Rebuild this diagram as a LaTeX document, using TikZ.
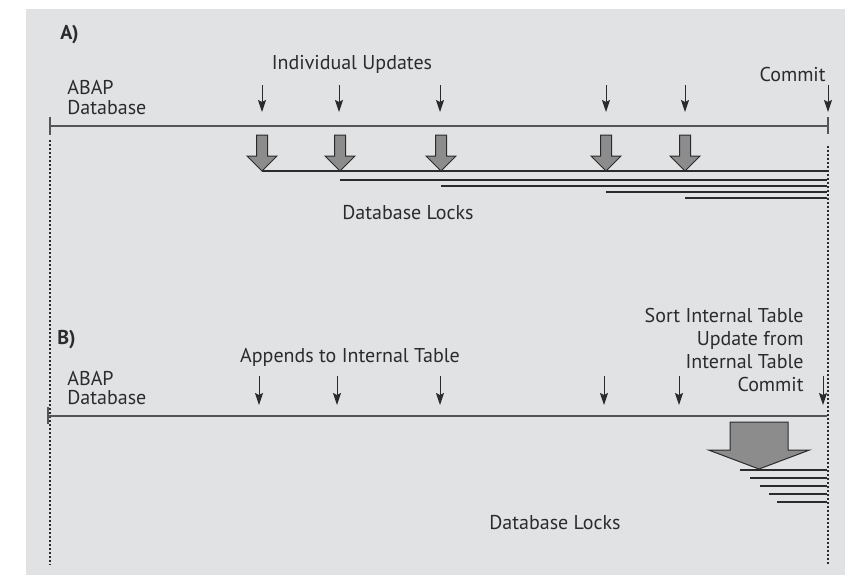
\documentclass[tikz,border=0pt]{standalone}
\usepackage{fontspec}
\setmainfont{PT Sans}
\usetikzlibrary{arrows.meta}
\definecolor{panelgray}{HTML}{E1E2E4}
\definecolor{linegray}{HTML}{555555}
\definecolor{arrowgray}{HTML}{8C8C8C}
\definecolor{inkgray}{HTML}{2B2B2B}

\begin{document}
\begin{tikzpicture}[x=0.5pt,y=-0.5pt,
  lbl/.style={inner sep=0pt, text=inkgray, font=\fontsize{10}{9.5}\selectfont},
  timeline/.style={linegray, line width=0.8pt},
  lockline/.style={inkgray, line width=0.65pt},
  guide/.style={inkgray, line width=0.6pt, dash pattern=on 1pt off 1pt},
  smallarrow/.style={inkgray, line width=0.5pt, -{Stealth[length=6pt,width=4pt,inset=1pt]}},
  bigarrow/.style={draw=inkgray, fill=arrowgray, line width=0.5pt, line join=miter}]

\useasboundingbox (0,0) rectangle (845,575);
\fill[panelgray] (26,9) rectangle (845,575);

\draw[guide] (50,140) -- (50,565);
\draw[guide] (828,146) -- (828,565);

\begin{scope} {
\node[lbl, anchor=west] (titleA) at (60,35) {\bfseries A)};
\node[lbl, anchor=west, align=left] (abapA) at (67,97.5) {ABAP\\Database};
\node[lbl] (updatesA) at (352,64) {Individual Updates};
\node[lbl, anchor=east] (commitA) at (826,74) {Commit};

\draw[timeline] (50,126) -- (828,126);
\draw[timeline] (50,117) -- (50,135);
\draw[timeline] (828,117) -- (828,134);

\draw[smallarrow] (262,85) -- (262,112);
\draw[smallarrow] (339,85) -- (339,112);
\draw[smallarrow] (440,85) -- (440,112);
\draw[smallarrow] (606,85) -- (606,112);
\draw[smallarrow] (685,85) -- (685,112);
\draw[smallarrow] (828,85) -- (828,112);

\draw[bigarrow] (256.5,135)--++(11,0)--++(0,21)--++(9.5,0)--++(-15,15)--++(-15,-15)--++(9.5,0)--cycle;
\draw[bigarrow] (334.5,135)--++(11,0)--++(0,21)--++(9.5,0)--++(-15,15)--++(-15,-15)--++(9.5,0)--cycle;
\draw[bigarrow] (435.5,135)--++(11,0)--++(0,21)--++(9.5,0)--++(-15,15)--++(-15,-15)--++(9.5,0)--cycle;
\draw[bigarrow] (600.5,135)--++(11,0)--++(0,21)--++(9.5,0)--++(-15,15)--++(-15,-15)--++(9.5,0)--cycle;
\draw[bigarrow] (679.5,135)--++(11,0)--++(0,21)--++(9.5,0)--++(-15,15)--++(-15,-15)--++(9.5,0)--cycle;

\draw[lockline] (262,171) -- (828,171);
\draw[lockline] (340,180) -- (827,180);
\draw[lockline] (441,186) -- (827,186);
\draw[lockline] (606,192) -- (827,192);
\draw[lockline] (685,198) -- (827,198);

\node[lbl] (locksA) at (408,213) {Database Locks};
}\end{scope}

\begin{scope} {
\node[lbl, anchor=west] (titleB) at (57,340) {\bfseries B)};
\node[lbl, anchor=west, align=left] (abapB) at (67,387.5) {ABAP\\Database};
\node[lbl] (appendsB) at (350,357) {Appends to Internal Table};
\node[lbl, anchor=east, align=right, font=\fontsize{10}{11.5}\selectfont] (stepsB) at (804,350) {Sort Internal Table\\Update from\\Internal Table\\Commit};

\draw[timeline] (48,416) -- (827,416);
\draw[timeline] (48,407) -- (48,424);

\draw[smallarrow] (259,376) -- (259,405);
\draw[smallarrow] (337,376) -- (337,405);
\draw[smallarrow] (440,376) -- (440,405);
\draw[smallarrow] (604,376) -- (604,405);
\draw[smallarrow] (679,376) -- (679,405);
\draw[smallarrow] (823,376) -- (823,405);

\draw[bigarrow] (730,422)--++(58,0)--++(0,28)--++(21.5,0)--++(-50.5,19)--++(-50.5,-19)--++(21.5,0)--cycle;

\draw[lockline] (740,470) -- (827,470);
\draw[lockline] (750,478) -- (827,478);
\draw[lockline] (760,486) -- (827,486);
\draw[lockline] (769,494) -- (827,494);
\draw[lockline] (777,502) -- (827,502);

\node[lbl] (locksB) at (555,523) {Database Locks};
}\end{scope}

\end{tikzpicture}
\end{document}
